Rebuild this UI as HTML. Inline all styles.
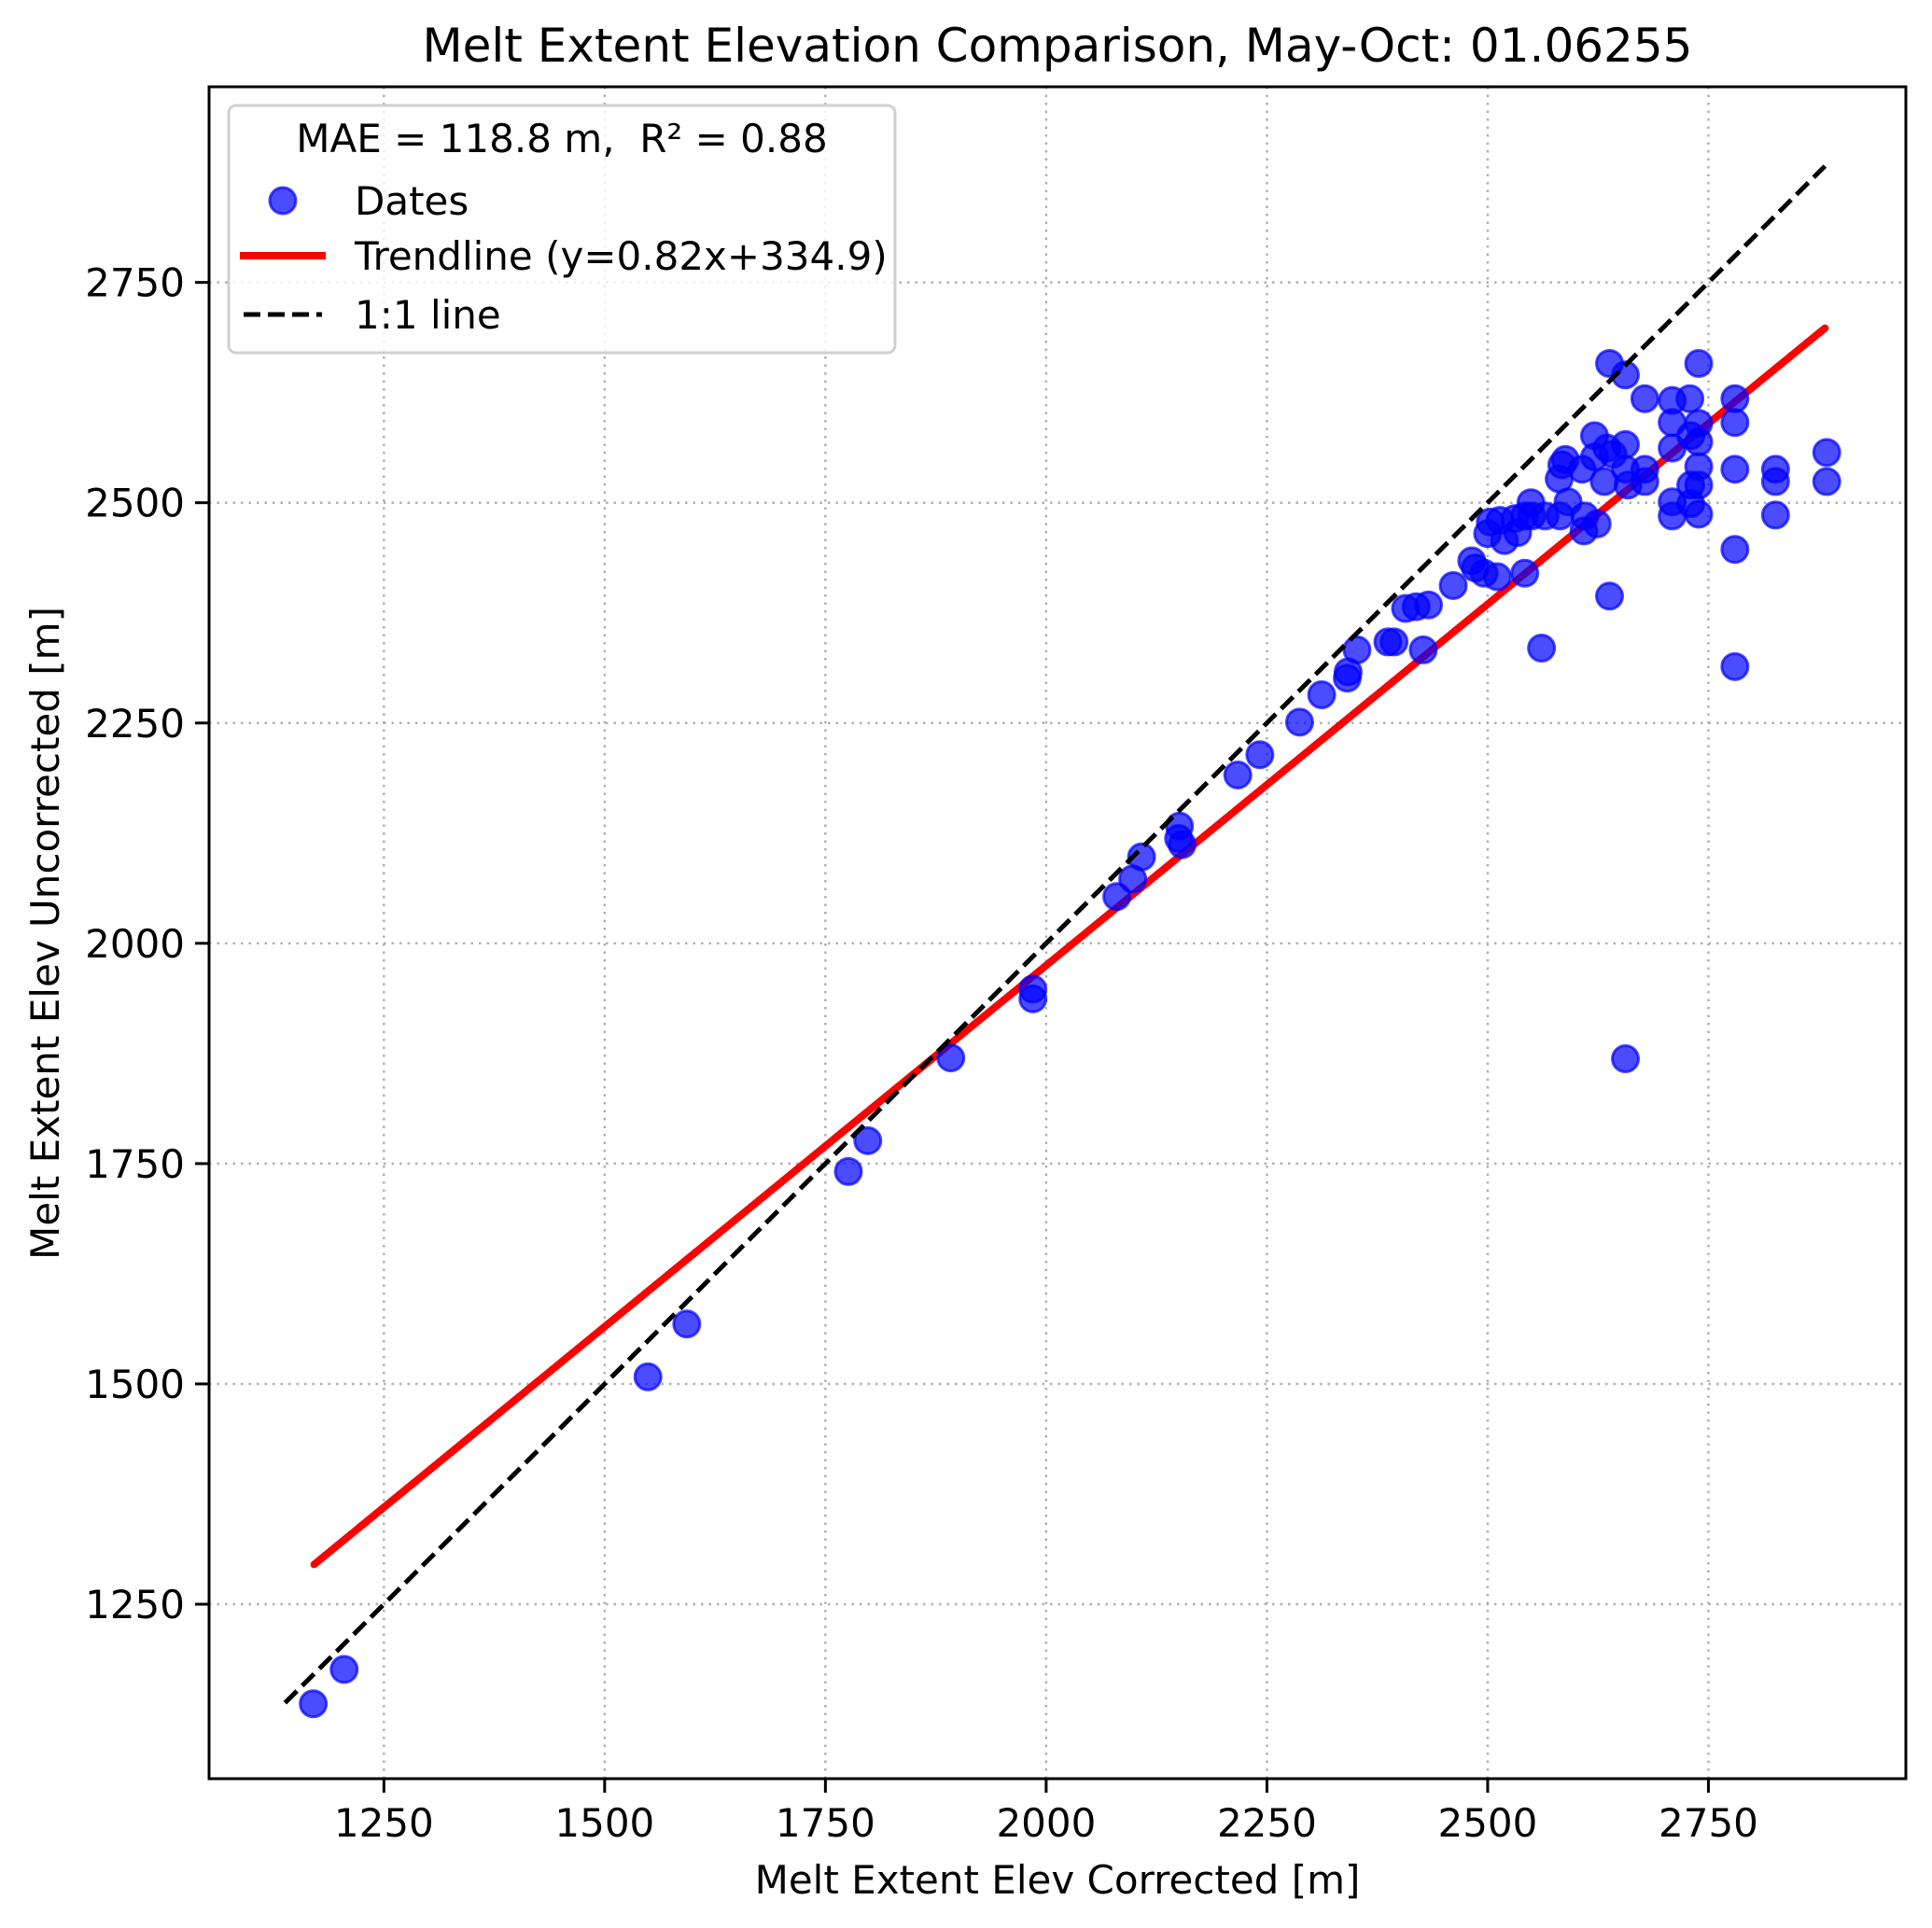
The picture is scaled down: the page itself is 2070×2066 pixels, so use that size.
<!DOCTYPE html>
<html><head><meta charset="utf-8"><style>
html,body{margin:0;padding:0;background:#fff;}
svg{display:block;font-family:"DejaVu Sans","Liberation Sans",sans-serif;}
</style></head><body>
<svg id="chart" width="2070" height="2066" viewBox="0 0 2070 2066">
<rect width="2070" height="2066" fill="#fff"/>
<g id="grid"></g>
<g id="lines"></g>
<g id="points"></g>
<g id="axes"></g>
<text x="1133" y="66" font-size="50" text-anchor="middle">Melt Extent Elevation Comparison, May-Oct: 01.06255</text>
<text x="1133" y="2029" font-size="42" text-anchor="middle">Melt Extent Elev Corrected [m]</text>
<text x="0" y="0" font-size="42" text-anchor="middle" transform="translate(63,1000) rotate(-90)">Melt Extent Elev Uncorrected [m]</text>
<g>
<rect x="245" y="113" width="714" height="265" rx="8" fill="#fff" fill-opacity="0.8" stroke="#d0d0d0" stroke-width="3"/>
<text x="602" y="163" font-size="42" text-anchor="middle" style="white-space:pre" xml:space="preserve">MAE = 118.8 m,  R² = 0.88</text>
<circle cx="303" cy="215" r="14" fill="#0000ff" fill-opacity="0.7" stroke="#0000ff" stroke-opacity="0.7" stroke-width="3"/>
<text x="380" y="230" font-size="42">Dates</text>
<line x1="257" y1="274" x2="349" y2="274" stroke="#ff0000" stroke-width="8"/>
<text x="380" y="289" font-size="42">Trendline (y=0.82x+334.9)</text>
<line x1="261" y1="337" x2="345" y2="337" stroke="#000" stroke-width="5" stroke-dasharray="18,8"/>
<text x="380" y="352" font-size="42">1:1 line</text>
</g>
</svg>
<script>
const xTicks = [1250, 1500, 1750, 2000, 2250, 2500, 2750];
const yTicks = [1250, 1500, 1750, 2000, 2250, 2500, 2750];
const xVals = [1170,1205,1549,1593,1776,1798,1892,1985,1985,2080,2098,2108,2150,2151,2154,2217,2242,2287,2312,2341,2342,2352,2387,2394,2407,2419,2433,2427,2461,2482,2486,2496,2511,2500,2503,2514,2519,2531,2534,2542,2542,2549,2550,2561,2565,2582,2581,2584,2588,2591,2609,2610,2607,2621,2621,2624,2632,2635,2638,2638,2642,2656,2656,2656,2656,2659,2678,2678,2678,2709,2709,2709,2709,2709,2729,2730,2730,2730,2739,2739,2739,2739,2739,2739,2780,2780,2780,2780,2780,2826,2826,2826,2884,2884];
const yVals = [1137,1176,1508,1568,1741,1776,1870,1937,1948,2053,2073,2098,2119,2133,2112,2191,2214,2251,2282,2301,2308,2333,2342,2342,2380,2382,2384,2333,2406,2434,2426,2420,2416,2465,2478,2480,2457,2482,2466,2485,2420,2500,2485,2335,2485,2485,2527,2543,2549,2501,2468,2485,2538,2576,2552,2476,2524,2562,2394,2658,2555,2645,2566,2538,1869,2520,2538,2524,2618,2616,2591,2562,2501,2485,2618,2576,2520,2499,2658,2590,2569,2541,2520,2487,2618,2591,2538,2447,2314,2538,2524,2486,2557,2524];
const trendSlope = [0.82];
const trendIntercept = [334.9];
const trendRange = [1171, 2882];
const oneToOneRange = [1138, 2882];

const NS = "http://www.w3.org/2000/svg";
const L = 224, R = 2042, T = 93, B = 1906;
const xMin = 1052, xMax = 2973.6, yMin = 1052, yMax = 2972;
function sx(v){ return L + (v - xMin) / (xMax - xMin) * (R - L); }
function sy(v){ return B - (v - yMin) / (yMax - yMin) * (B - T); }
function mk(tag, attrs, parent){ const e = document.createElementNS(NS, tag); for (const k in attrs) e.setAttribute(k, attrs[k]); parent.appendChild(e); return e; }

const grid = document.getElementById('grid');
const axes = document.getElementById('axes');
xTicks.forEach(t => {
  const g = mk('line', {x1: sx(t), x2: sx(t), y1: T, y2: B, stroke: '#b0b0b0', 'stroke-width': 2.5, 'stroke-dasharray': '2.5,6'}, grid);
  
  
  const tk = mk('line', {x1: sx(t), x2: sx(t), y1: B, y2: B + 15, stroke: '#000', 'stroke-width': 3}, axes);
  
  
  const tx = mk('text', {x: sx(t), y: B + 62, 'font-size': 42, 'text-anchor': 'middle'}, axes);
  tx.textContent = t;
  
  
});
yTicks.forEach(t => {
  const g = mk('line', {x1: L, x2: R, y1: sy(t), y2: sy(t), stroke: '#b0b0b0', 'stroke-width': 2.5, 'stroke-dasharray': '2.5,6'}, grid);
  
  
  const tk = mk('line', {x1: L - 15, x2: L, y1: sy(t), y2: sy(t), stroke: '#000', 'stroke-width': 3}, axes);
  
  
  const tx = mk('text', {x: L - 26, y: sy(t) + 15, 'font-size': 42, 'text-anchor': 'end'}, axes);
  tx.textContent = t;
  
  
});
const frame = mk('rect', {x: L, y: T, width: R - L, height: B - T, fill: 'none', stroke: '#000', 'stroke-width': 3}, axes);



const lines = document.getElementById('lines');
const pts = document.getElementById('points');
const tr = mk('line', {x1: sx(trendRange[0]), y1: sy(trendSlope[0]*trendRange[0]+trendIntercept[0]), x2: sx(trendRange[1]), y2: sy(trendSlope[0]*trendRange[1]+trendIntercept[0]), stroke: '#ff0000', 'stroke-width': 8, 'stroke-linecap': 'round'}, lines);



xVals.forEach((xv, i) => {
  const c = mk('circle', {cx: sx(xv), cy: sy(yVals[i]), r: 14, fill: '#0000ff', 'fill-opacity': 0.7, stroke: '#0000ff', 'stroke-opacity': 0.7, 'stroke-width': 3}, pts);
  
  
});

const oo = mk('line', {x1: sx(oneToOneRange[0]), y1: sy(oneToOneRange[0]), x2: sx(oneToOneRange[1]), y2: sy(oneToOneRange[1]), stroke: '#000', 'stroke-width': 5, 'stroke-dasharray': '18,8'}, pts);


</script>
</body></html>
